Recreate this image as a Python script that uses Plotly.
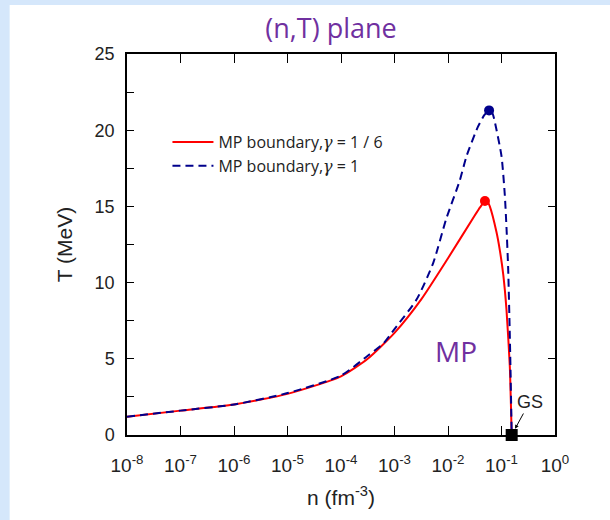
import math
import plotly.graph_objects as go

# ---- data ----
n_red = [1e-8, 1e-7, 1e-6, 1e-5, 1e-4, 3.16e-4, 1e-3, 3.16e-3, 1e-2, 3.16e-2, 4.0e-2, 4.9e-2,
         5.5e-2, 6.05e-2, 8.07e-2, 9.33e-2, 1.08e-1, 1.24e-1, 1.43e-1, 1.50e-1, 1.55e-1]
T_red = [1.2, 1.6, 2.0, 2.7, 3.85, 5.0, 6.7, 8.9, 11.6, 14.4, 14.95, 15.35,
         15.3, 15.0, 13.3, 12.1, 10.5, 8.2, 4.5, 2.0, 0.0]

n_blue = [1e-8, 1e-7, 1e-6, 1e-5, 1e-4, 3.16e-4, 6.2e-4, 1e-3, 2.6e-3, 5.3e-3, 9.3e-3,
          1.66e-2, 2.22e-2, 3.6e-2, 4.8e-2, 5.86e-2, 6.8e-2, 7.6e-2, 1.0e-1, 1.15e-1, 1.24e-1,
          1.33e-1, 1.42e-1, 1.47e-1, 1.55e-1]
T_blue = [1.2, 1.6, 2.0, 2.75, 3.9, 5.2, 6.0, 6.95, 8.9, 11.3, 14.2,
          16.7, 18.3, 20.2, 21.0, 21.3, 21.1, 20.45, 18.3, 15.8, 13.6,
          11.0, 7.0, 4.5, 0.0]

red_peak = (4.9e-2, 15.35)
blue_peak = (5.86e-2, 21.3)
gs_point = (0.155, 0.0)

x_tickvals = [1e-8, 1e-7, 1e-6, 1e-5, 1e-4, 1e-3, 1e-2, 1e-1, 1e0]
x_ticktext = ["10<sup>-8</sup>", "10<sup>-7</sup>", "10<sup>-6</sup>", "10<sup>-5</sup>",
              "10<sup>-4</sup>", "10<sup>-3</sup>", "10<sup>-2</sup>", "10<sup>-1</sup>",
              "10<sup>0</sup>"]
y_tickvals = [0, 2.5, 5, 7.5, 10, 12.5, 15, 17.5, 20, 22.5, 25]
y_ticktext = ["0", "", "5", "", "10", "", "15", "", "20", "", "25"]
y2_tickvals = [5, 10, 15, 20]

RED = "#ff0000"
BLUE = "#00008c"
PURPLE = "#7030a0"
SANS = "Liberation Sans, Arial, sans-serif"
GAMMA = '<span style="font-family:DejaVu Serif"><i>γ</i></span>'

fig = go.Figure()
fig.add_trace(go.Scatter(x=n_red, y=T_red, mode="lines",
                         line=dict(color=RED, width=2, shape="spline", smoothing=0.6),
                         name="MP boundary," + GAMMA + " = 1 / 6", hoverinfo="skip"))
fig.add_trace(go.Scatter(x=n_blue, y=T_blue, mode="lines",
                         line=dict(color=BLUE, width=2, dash="8px,5px", shape="spline", smoothing=0.6),
                         name="MP boundary," + GAMMA + " = 1", hoverinfo="skip"))
fig.add_trace(go.Scatter(x=[red_peak[0]], y=[red_peak[1]], mode="markers",
                         marker=dict(color=RED, size=10), showlegend=False, hoverinfo="skip"))
fig.add_trace(go.Scatter(x=[blue_peak[0]], y=[blue_peak[1]], mode="markers",
                         marker=dict(color=BLUE, size=10), showlegend=False, hoverinfo="skip"))
fig.add_trace(go.Scatter(x=[gs_point[0]], y=[gs_point[1]], mode="markers", cliponaxis=False,
                         marker=dict(color="black", size=12, symbol="square"), showlegend=False, hoverinfo="skip"))
fig.add_trace(go.Scatter(x=[1e-8], y=[0], yaxis="y2", mode="markers", marker=dict(opacity=0),
                         showlegend=False, hoverinfo="skip"))

# plot area in pixels
L, R, T, B = 126.5, 55, 54, 85
W, H = 610, 520
pw, ph = W - L - R, H - T - B

fig.add_shape(type="rect", xref="paper", yref="paper",
              x0=-(L - 9) / pw, x1=(W - L) / pw + 0.01, y0=-(B + 5) / ph, y1=(H - 5 - B) / ph,
              fillcolor="white", line=dict(width=0), layer="below")

fig.add_annotation(x=-1.853, y=5.5, xref="x", yref="y", text="MP", showarrow=False,
                   font=dict(family="Open Sans, sans-serif", size=28, color=PURPLE))
fig.add_annotation(x=math.log10(gs_point[0]), y=gs_point[1], xref="x", yref="y", text="GS", showarrow=True,
                   ax=18, ay=-33, arrowhead=2, arrowsize=0.8, arrowwidth=1, arrowcolor="black",
                   standoff=7, font=dict(family=SANS, size=18, color="#222"))

fig.update_layout(
    width=W, height=H,
    margin=dict(l=L, r=R, t=T, b=B),
    paper_bgcolor="#d5e7fb",
    plot_bgcolor="white",
    title=dict(text="(n,T) plane", x=331 / W, xanchor="center", y=1 - 29 / H, yanchor="middle",
               font=dict(family="Open Sans, sans-serif", size=27, color=PURPLE)),
    showlegend=True,
    legend=dict(x=(167 - L) / pw, y=1 - (125 - T) / ph, xanchor="left", yanchor="top",
                bgcolor="rgba(0,0,0,0)", font=dict(family="Open Sans, sans-serif", size=16, color="#222"),
                itemwidth=41, tracegroupgap=0),
    xaxis=dict(type="log", range=[-8, 0], tickvals=x_tickvals, ticktext=x_ticktext,
               ticks="inside", ticklen=9, tickwidth=1.3, tickcolor="black",
               showline=True, linecolor="black", linewidth=1.5, mirror="ticks",
               showgrid=False, zeroline=False, ticklabelstandoff=12,
               tickfont=dict(family=SANS, size=19, color="#222"),
               title=dict(text="n (fm<sup>-3</sup>)", standoff=16,
                          font=dict(family=SANS, size=21, color="#222"))),
    yaxis=dict(range=[0, 25], tickvals=y_tickvals, ticktext=y_ticktext,
               ticks="inside", ticklen=7, tickwidth=1.3, tickcolor="black",
               showline=True, linecolor="black", linewidth=1.5, mirror=False,
               showgrid=False, zeroline=False, ticklabelstandoff=7,
               tickfont=dict(family=SANS, size=18, color="#222"),
               title=dict(text="T (MeV)", standoff=16,
                          font=dict(family=SANS, size=21, color="#222"))),
    yaxis2=dict(range=[0, 25], overlaying="y", side="right", tickvals=y2_tickvals,
                showticklabels=False, ticks="inside", ticklen=7, tickwidth=1.3, tickcolor="black",
                showline=True, linecolor="black", linewidth=1.5, showgrid=False, zeroline=False),
)

fig.write_html("out.html")
